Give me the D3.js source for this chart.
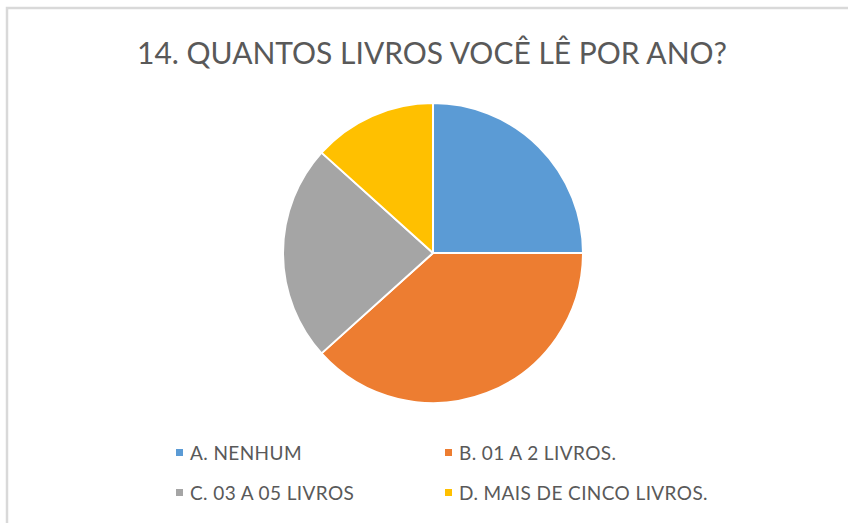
<!DOCTYPE html>
<html><head><meta charset="utf-8">
<script src="https://cdn.jsdelivr.net/npm/d3@7"></script>
<style>html,body{margin:0;padding:0;background:#fff;}svg{display:block;}</style>
</head><body>
<script>
const title = "14. QUANTOS LIVROS VOCÊ LÊ POR ANO?";
const categories = ["A. NENHUM", "B. 01 A 2 LIVROS.", "C. 03 A 05 LIVROS", "D. MAIS DE CINCO LIVROS."];
const values = [15, 23, 14, 8];
const colors = ["#5B9BD5", "#ED7D31", "#A5A5A5", "#FFC000"];

const W = 848, H = 523;
const svg = d3.select("body").append("svg").attr("width", W).attr("height", H);
svg.append("rect").attr("width", W).attr("height", H).attr("fill", "#fff");
// chart frame
svg.append("path").attr("d", `M7,${H+5} V8 H${W+5}`).attr("fill", "none").attr("stroke", "#d9d9d9").attr("stroke-width", 2.5);

const font = "Lato, 'Open Sans', sans-serif";
svg.append("text").attr("x", 432).attr("y", 64).attr("text-anchor", "middle")
  .attr("font-family", font).attr("font-size", 30).attr("fill", "#595959").text(title);

const cx = 433, cy = 253, r = 150;
const color = d3.scaleOrdinal().domain(categories).range(colors);
const pie = d3.pie().sort(null).value(d => d.v);
const data = categories.map((c, i) => ({c, v: values[i]}));
const arc = d3.arc().innerRadius(0).outerRadius(r);
svg.append("g").attr("transform", `translate(${cx},${cy})`)
  .selectAll("path").data(pie(data)).join("path")
  .attr("d", arc).attr("fill", d => color(d.data.c))
  .attr("stroke", "#fff").attr("stroke-width", 2).attr("stroke-linejoin", "round");

const legX = [176, 445], legY = [453, 493];
const lg = svg.append("g").selectAll("g").data(data).join("g")
  .attr("transform", (d, i) => `translate(${legX[i % 2]},${legY[Math.floor(i / 2)]})`);
lg.append("rect").attr("x", 0).attr("y", -4).attr("width", 7).attr("height", 7).attr("fill", d => color(d.c));
lg.append("text").attr("x", 14).attr("y", 0).attr("dy", "0.35em")
  .attr("font-family", font).attr("font-size", 19).attr("letter-spacing", 0.4).attr("fill", "#595959").text(d => d.c);
</script>
</body></html>
